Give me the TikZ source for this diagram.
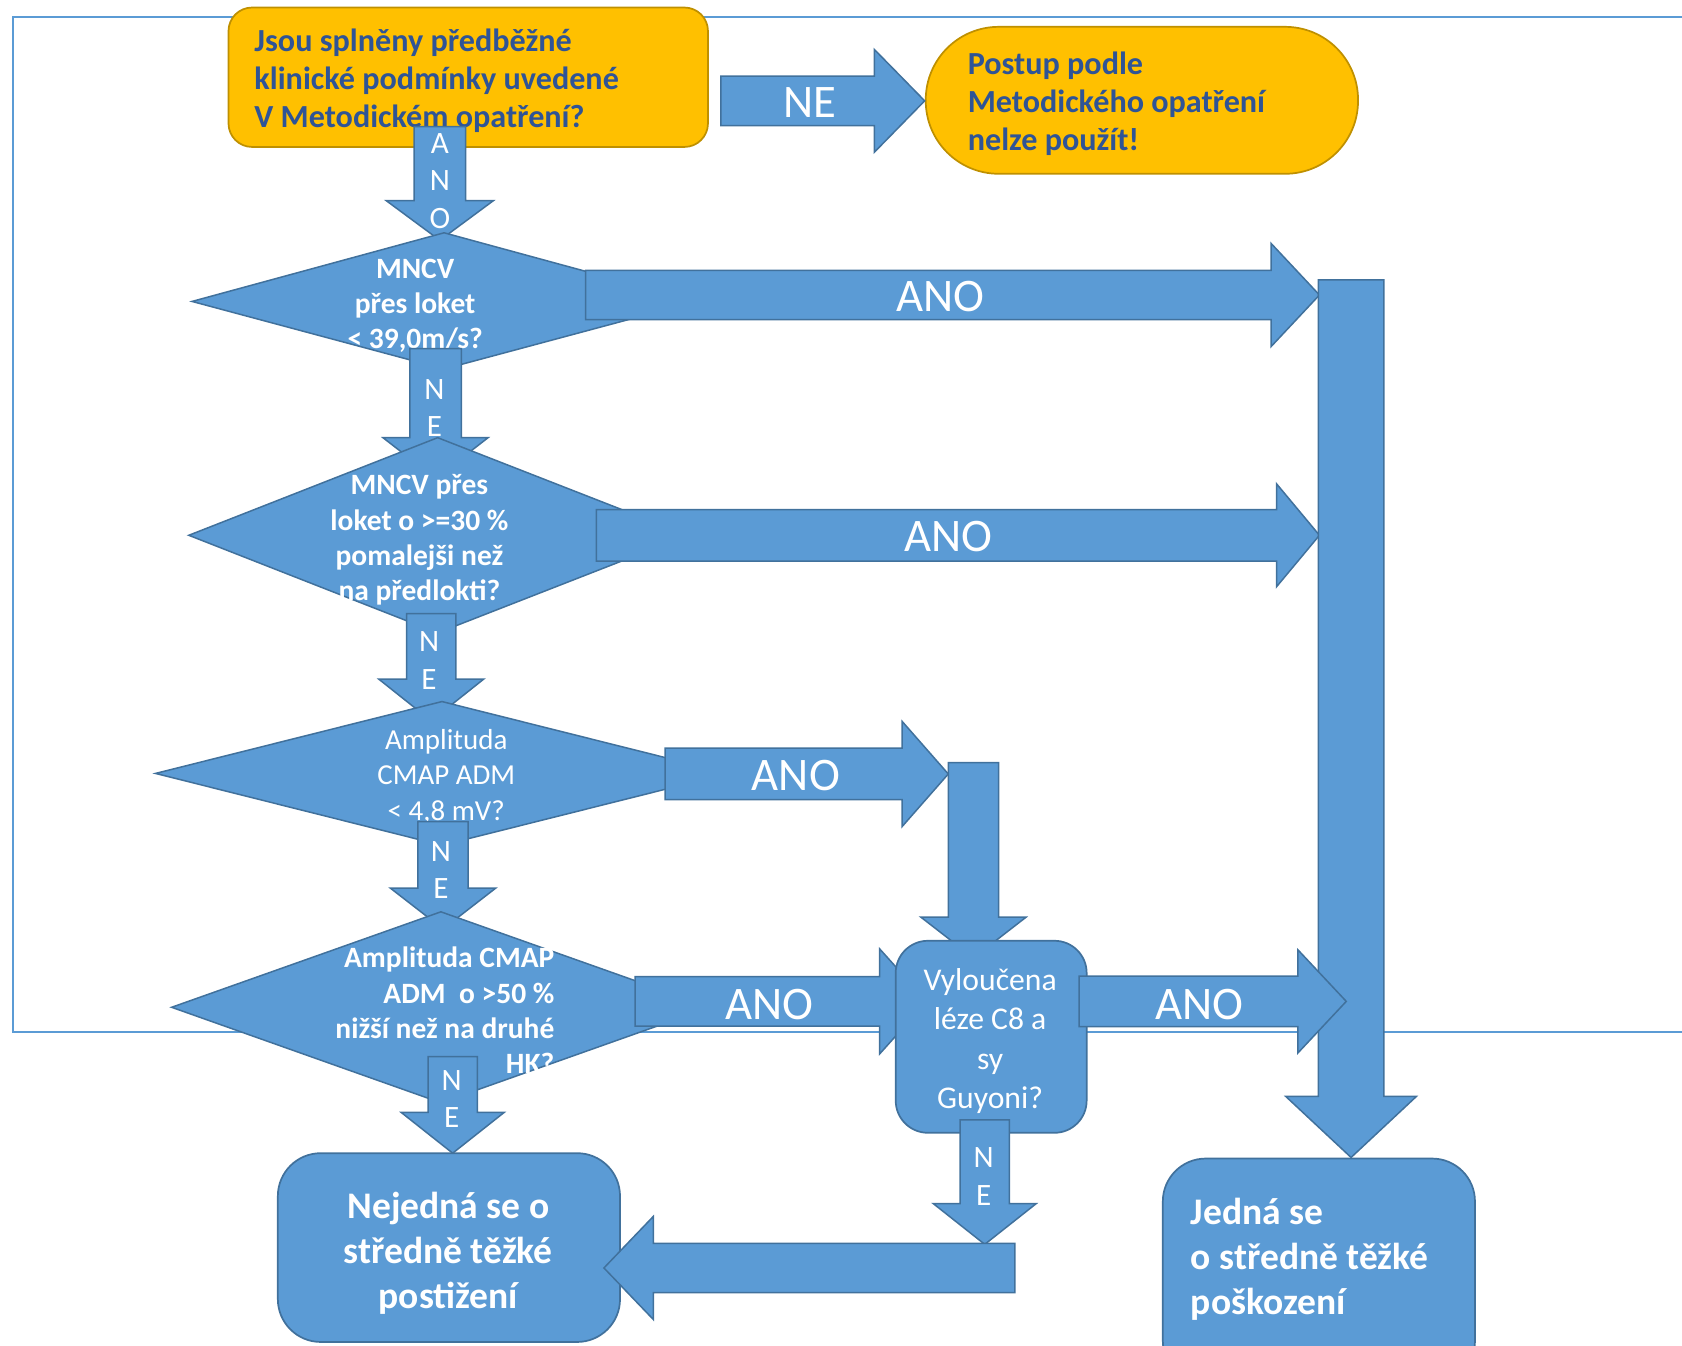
\documentclass[tikz,border=0pt]{standalone}
\usepackage{fontspec}
\setmainfont{Carlito}
\definecolor{cblue}{HTML}{5B9BD5}
\definecolor{cedge}{HTML}{41719C}
\definecolor{cyel}{HTML}{FFC000}
\definecolor{cyedge}{HTML}{BF9000}
\definecolor{ctext}{HTML}{2F5496}
\newcommand\blkH[6]{% x1, head base x, tip x, yc, half shaft, half head
  \draw[blk] (#1,#4-#5) -- (#2,#4-#5) -- (#2,#4-#6) -- (#3,#4) -- (#2,#4+#6) -- (#2,#4+#5) -- (#1,#4+#5) -- cycle;}
\newcommand\blkV[6]{% xc, y start, head base y, tip y, half shaft, half head
  \draw[blk] (#1-#5,#2) -- (#1-#5,#3) -- (#1-#6,#3) -- (#1,#4) -- (#1+#6,#3) -- (#1+#5,#3) -- (#1+#5,#2) -- cycle;}
\begin{document}
\begin{tikzpicture}[x=1pt,y=-1pt,
  blk/.style={fill=cblue, draw=cedge, line width=1.4pt, line join=miter},
  ybox/.style={fill=cyel, draw=cyedge, line width=1.6pt},
  bbox/.style={fill=cblue, draw=cedge, line width=1.6pt},
  ytxt/.style={text=ctext, font=\fontsize{30}{35.5}\selectfont\bfseries, align=left, inner sep=0pt},
  dtxt/.style={text=white, font=\fontsize{27.5}{33}\selectfont\bfseries, align=center, inner sep=0pt},
  rtxt/.style={text=white, font=\fontsize{27}{33}\selectfont, align=center, inner sep=0pt},
  big/.style={text=white, font=\fontsize{43.5}{50}\selectfont, inner sep=0pt},
  vlab/.style={text=white, font=\fontsize{29}{35}\selectfont, align=center, inner sep=0pt},
  res/.style={text=white, font=\fontsize{35}{42}\selectfont\bfseries, inner sep=0pt}]
\useasboundingbox (0,0) rectangle (1568,1254);
\clip (0,0) rectangle (1568,1254);
% frame
\draw[cblue, line width=2pt] (1600,16) -- (12,16) -- (12,962) -- (1600,962);
% top boxes
\draw[ybox, rounded corners=22pt] (213,7) rectangle (660,137);
\node[ytxt, anchor=west] (q0) at (237,75.5) {Jsou splněny předběžné\\klinické podmínky uvedené\\V Metodickém opatření?};
\draw[ybox, rounded corners=68pt] (863,25) rectangle (1266,162);
\node[ytxt, anchor=west] (stop) at (902,96.5) {Postup podle\\Metodického opatření\\nelze použít!};
\blkH{672}{815}{862}{94}{23}{48}
\node[big] (ne0) at (755,95.5) {NE};
\blkV{410}{118}{187}{224}{24}{50}
\node[vlab] (ano0) at (410,168.5) {A\\N\\O};
% diamond 1
\draw[blk] (179,281) -- (414,217) -- (649,281) -- (414,344) -- cycle;
\node[dtxt] (d1) at (387,285) {MNCV\\přes loket\\< 39,0m/s?};
\blkH{546}{1185}{1230}{275}{23}{48}
\node[big] (ano1) at (877,276) {ANO};
\blkV{406}{325}{408}{446}{24}{49}
\node[vlab] (ne1) at (405,380.5) {N\\E};
% diamond 2
\draw[blk] (176,499) -- (408,408) -- (641,499) -- (408,590) -- cycle;
\node[dtxt] (d2) at (391,503.5) {MNCV přes\\loket o >=30 \%\\pomalejši než\\na předlokti?};
\blkH{556}{1190}{1230}{499}{24}{48}
\node[big] (ano2) at (884,500) {ANO};
\blkV{402}{572}{633}{672}{23}{49}
\node[vlab] (ne2) at (400,615.5) {N\\E};
% diamond 3
\draw[blk] (145,721) -- (412,654) -- (679,721) -- (412,788) -- cycle;
\node[rtxt] (d3) at (416,724) {Amplituda\\CMAP ADM\\< 4,8 mV?};
\blkH{620}{841}{884}{721.5}{24}{49}
\node[big] (ano3) at (742,723) {ANO};
\blkV{907.5}{711}{855}{893}{23.5}{49}
\blkV{413}{766}{828}{866}{23.5}{49}
\node[vlab] (ne3) at (411,811) {N\\E};
% diamond 4
\draw[blk] (160,939) -- (411,850) -- (662,939) -- (411,1028) -- cycle;
\node[dtxt, align=right, anchor=east] (d4) at (517,942) {Amplituda CMAP\\ADM\ \ o >50 \%\\nižší než na druhé\\HK?};
\blkH{592}{820}{864}{933.5}{23}{49}
\node[big] (ano4) at (717,936) {ANO};
\blkV{422}{985}{1037}{1075}{23}{48}
\node[vlab] (ne4) at (421,1024.5) {N\\E};
% Vyloucena
\draw[bbox, rounded corners=30pt] (835,877) rectangle (1013,1056);
\node[rtxt, font=\fontsize{29.5}{36.5}\selectfont] (vyl) at (923,970.5) {Vyloučena\\léze C8 a\\sy\\Guyoni?};
% result boxes
\draw[bbox, rounded corners=40pt] (259,1075) rectangle (578,1251);
\node[res, align=center] (nej) at (418,1168) {Nejedná se o\\středně těžké\\postižení};
\draw[bbox, rounded corners=40pt] (1084,1080) rectangle (1375,1290);
\node[res, align=left, anchor=west] (jed) at (1110,1173.5) {Jedná se\\o středně těžké\\poškození};
% right bar
\blkV{1259.5}{261}{1022}{1079}{30.5}{61}
\blkH{1006}{1210}{1255}{933.5}{23.5}{48}
\node[big] (ano5) at (1118,936) {ANO};
\blkV{918}{1044}{1122}{1160}{23}{48}
\node[vlab] (ne5) at (917,1097) {N\\E};
\blkH{946}{609}{563}{1182}{23}{48}
\end{tikzpicture}
\end{document}
